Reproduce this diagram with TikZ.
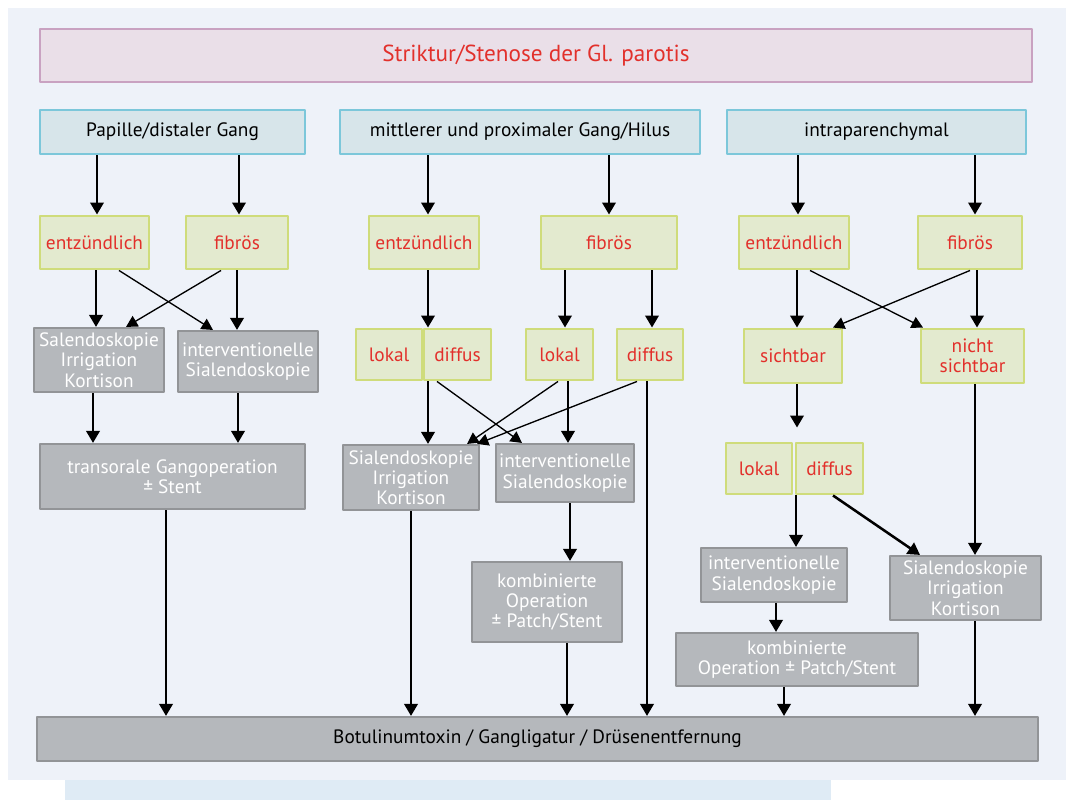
\documentclass[tikz,border=0pt]{standalone}
\usepackage{fontspec}
\setmainfont{PT Sans}
\usetikzlibrary{arrows.meta}
\definecolor{bgblue}{HTML}{EEF2F9}
\definecolor{stripblue}{HTML}{DFEBF5}
\definecolor{titlefill}{HTML}{EADFE8}
\definecolor{titleline}{HTML}{C9A2C1}
\definecolor{hdfill}{HTML}{D7E5EA}
\definecolor{hdline}{HTML}{7CC7DA}
\definecolor{grfill}{HTML}{E3EACF}
\definecolor{grline}{HTML}{CFDC7B}
\definecolor{gyfill}{HTML}{B5B8BC}
\definecolor{gyline}{HTML}{929497}
\definecolor{redtext}{HTML}{E2302B}
\begin{document}
\begin{tikzpicture}[x=0.75pt,y=-0.75pt, line join=round,
	font=\fontsize{14.5}{15.2}\selectfont,
	box/.style={draw, inner sep=0pt, align=center},
	titlebox/.style={box, fill=titlefill, draw=titleline, line width=1.5pt, text=redtext, font=\fontsize{17.4}{19}\selectfont},
	hdbox/.style={box, fill=hdfill, draw=hdline, line width=1.9pt, minimum height=44*\px},
	grbox/.style={box, fill=grfill, draw=grline, line width=2.2pt, text=redtext},
	gybox/.style={box, fill=gyfill, draw=gyline, line width=1.6pt, text=white},
	arr/.style={-{Triangle[width=10pt,length=9pt]}, line width=1.9pt},
	thinarr/.style={-{Triangle[width=9pt,length=8.5pt]}, line width=1pt}]
	\def\px{0.75pt}
	\useasboundingbox (0,0) rectangle (1066,801);
	\fill[bgblue] (8,8) rectangle (1066,780);
	\fill[stripblue] (65,780) rectangle (831,800);
	% Kopfzeilen
	\node[titlebox, minimum width=992*\px, minimum height=53*\px] (title) at (536,55.5) {Striktur/Stenose der Gl. parotis};
	\node[hdbox, minimum width=265*\px] (A1) at (172.5,132) {Papille/distaler Gang};
	\node[hdbox, minimum width=360*\px] (B1) at (520,132) {mittlerer und proximaler Gang/Hilus};
	\node[hdbox, minimum width=299*\px] (C1) at (876.5,132) {intraparenchymal};
	% entzuendlich / fibroes
	\node[grbox, minimum width=109*\px, minimum height=53*\px] (A2e) at (94.5,242.5) {entzündlich};
	\node[grbox, minimum width=102*\px, minimum height=53*\px] (A2f) at (237,242.5) {fibrös};
	\node[grbox, minimum width=110*\px, minimum height=53*\px] (B2e) at (424,242.5) {entzündlich};
	\node[grbox, minimum width=136*\px, minimum height=53*\px] (B2f) at (609,242.5) {fibrös};
	\node[grbox, minimum width=110*\px, minimum height=53*\px] (C2e) at (794,242.5) {entzündlich};
	\node[grbox, minimum width=104*\px, minimum height=53*\px] (C2f) at (970,242.5) {fibrös};
	% Spalte Papille
	\node[gybox, minimum width=130*\px, minimum height=64*\px] (A3s) at (99,360) {Salendoskopie\\Irrigation\\Kortison};
	\node[gybox, minimum width=140*\px, minimum height=61*\px] (A3i) at (248,361.5) {interventionelle\\Sialendoskopie};
	\node[gybox, minimum width=265*\px, minimum height=65*\px] (A4) at (172.5,476.5) {transorale Gangoperation\\± Stent};
	% Spalte Gang/Hilus
	\node[grbox, minimum width=66*\px, minimum height=51*\px] (B3l1) at (389,354.5) {lokal};
	\node[grbox, minimum width=67*\px, minimum height=51*\px] (B3d1) at (457.5,354.5) {diffus};
	\node[grbox, minimum width=67*\px, minimum height=51*\px] (B3l2) at (559.5,354.5) {lokal};
	\node[grbox, minimum width=66*\px, minimum height=51*\px] (B3d2) at (650,354.5) {diffus};
	\node[gybox, minimum width=136*\px, minimum height=65*\px] (B4s) at (411,477.5) {Sialendoskopie\\Irrigation\\Kortison};
	\node[gybox, minimum width=138*\px, minimum height=58*\px] (B4i) at (565,473) {interventionelle\\Sialendoskopie};
	\node[gybox, minimum width=150*\px, minimum height=80*\px] (B5) at (547,602) {kombinierte\\Operation\\± Patch/Stent};
	% Spalte intraparenchymal
	\node[grbox, minimum width=98*\px, minimum height=54*\px] (C3s) at (793,356) {sichtbar};
	\node[grbox, minimum width=103*\px, minimum height=54*\px] (C3n) at (972.5,356) {nicht\\sichtbar};
	\node[grbox, minimum width=66*\px, minimum height=51*\px] (C4l) at (759,468.5) {lokal};
	\node[grbox, minimum width=67*\px, minimum height=51*\px] (C4d) at (829.5,468.5) {diffus};
	\node[gybox, minimum width=146*\px, minimum height=54*\px] (C5i) at (774,575) {interventionelle\\Sialendoskopie};
	\node[gybox, minimum width=151*\px, minimum height=64*\px] (C5s) at (965.5,588) {Sialendoskopie\\Irrigation\\Kortison};
	\node[gybox, minimum width=242*\px, minimum height=53*\px] (C6k) at (797,659.5) {kombinierte\\Operation ± Patch/Stent};
	% Endstufe
	\node[gybox, text=black, minimum width=1001*\px, minimum height=44*\px] (bot) at (537.5,739) {Botulinumtoxin / Gangligatur / Drüsenentfernung};
	% senkrechte Pfeile
	\foreach \s/\t/\x in {A1/A2e/97, A1/A2f/239, B1/B2e/428, B1/B2f/609, C1/C2e/798, C1/C2f/975,
		A2e/A3s/96, A2f/A3i/237, A3s/A4/93, A3i/A4/238, A4/bot/166,
		B2e/B3d1/428, B2f/B3l2/565, B2f/B3d2/652, B3d1/B4s/428, B3l2/B4i/568, B3d2/bot/647,
		B4s/bot/411, B4i/B5/570, B5/bot/567,
		C2e/C3s/797, C2f/C3n/977, C4d/C5i/796, C3n/C5s/975, C5i/C6k/776, C6k/bot/784, C5s/bot/975}
		\draw[arr] (\s.south -| \x,0) -- (\t.north -| \x,0);
	\draw[arr, shorten >=10.5pt] (C3s.south -| 797,0) -- (C4d.north -| 797,0);
	% schraege Pfeile
	\draw[thinarr] (A2e.south -| 119,0) -- (A3i.north -| 213,0);
	\draw[thinarr] (A2f.south -| 221,0) -- (A3s.north -| 126,0);
	\draw[thinarr] (B3d1.south -| 437,0) -- (B4i.north -| 522,0);
	\draw[thinarr] (B3l2.south -| 558,0) -- (B4s.north -| 467,0);
	\draw[thinarr] (B3d2.south -| 637,0) -- (B4s.north -| 477,0);
	\draw[thinarr] (C2e.south -| 810,0) -- (C3n.north -| 923,0);
	\draw[thinarr] (C2f.south -| 970,0) -- (C3s.north -| 833,0);
	\draw[arr] (C4d.south -| 833,0) -- (C5s.north -| 920,0);
\end{tikzpicture}
\end{document}
